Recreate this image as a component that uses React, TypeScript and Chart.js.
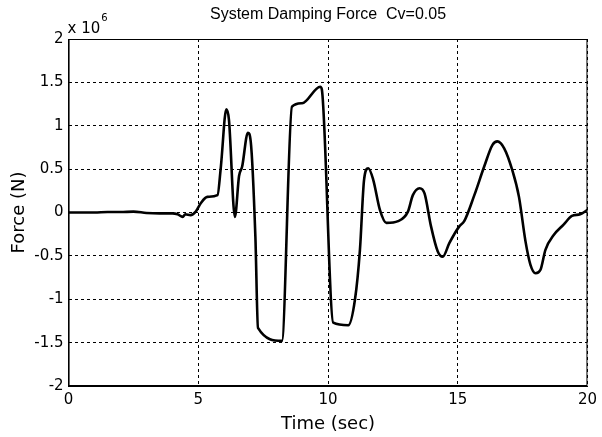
import React, { useEffect, useRef } from "react";
import { Chart, registerables } from "chart.js";

Chart.register(...registerables);

const timeSec = [
  0, 0.5, 1, 1.5, 2, 2.5, 3, 3.5, 4, 4.2, 4.4, 4.5, 4.7, 4.9, 5.1, 5.35, 5.74, 5.87, 6.08, 6.18,
  6.41, 6.57, 6.69, 6.91, 7.02, 7.2, 7.3, 8.22, 8.61, 9.0, 9.7, 9.76, 10.2, 10.78, 11.04, 11.23,
  11.39, 11.55, 11.74, 12.0, 12.25, 12.7, 13.08, 13.27, 13.53, 13.72, 13.97, 14.23, 14.42, 14.68,
  15.06, 15.25, 15.64, 16.02, 16.34, 16.53, 16.79, 17.1, 17.36, 17.61, 17.8, 18.0, 18.19, 18.38,
  18.7, 19.08, 19.4, 19.72, 20.0,
];

// Force in units of 10^6 N
const forceE6 = [
  0, 0, 0, 0.005, 0.005, 0.01, -0.005, -0.01, -0.01, -0.02, -0.05, -0.02, -0.03, 0.01, 0.11, 0.18,
  0.2, 0.53, 1.19, 1.07, -0.05, 0.42, 0.53, 0.92, 0.82, -0.28, -1.33, -1.48, 1.22, 1.26, 1.45, 1.42,
  -1.27, -1.3, -1.0, -0.43, 0.38, 0.51, 0.38, 0.03, -0.12, -0.1, 0.01, 0.2, 0.28, 0.22, -0.16, -0.45,
  -0.51, -0.35, -0.16, -0.1, 0.2, 0.53, 0.78, 0.82, 0.74, 0.49, 0.18, -0.33, -0.6, -0.7, -0.66, -0.43,
  -0.26, -0.14, -0.04, -0.02, 0.03,
];

const xTicks = [0, 5, 10, 15, 20];
const yTicks = [-2, -1.5, -1, -0.5, 0, 0.5, 1, 1.5, 2];

const titleText = "System Damping Force  Cv=0.05";
const xLabel = "Time (sec)";
const yLabel = "Force (N)";
const scaleBase = "x 10";
const scaleExp = "6";

const SANS = "'Liberation Sans', Arial, Helvetica, sans-serif";
const WIDE = "'DejaVu Sans', sans-serif";

export default function App() {
  const ref = useRef<HTMLCanvasElement | null>(null);

  useEffect(() => {
    document.body.style.margin = "0";
    const canvas = ref.current!;
    const overlay = {
      id: "overlay",
      afterDraw(chart: any) {
        const { ctx, chartArea } = chart;
        const { left, right, top, bottom } = chartArea;
        ctx.save();
        ctx.strokeStyle = "#000";
        ctx.lineWidth = 1;
        ctx.setLineDash([]);
        ctx.strokeRect(left + 0.5, top + 0.5, right - left - 1, bottom - top - 1);
        ctx.fillStyle = "#000";
        ctx.font = `16px ${SANS}`;
        ctx.textAlign = "center";
        ctx.textBaseline = "middle";
        ctx.fillText(titleText, (left + right) / 2, 15);
        ctx.textAlign = "left";
        ctx.textBaseline = "alphabetic";
        ctx.font = `15px ${WIDE}`;
        ctx.fillText(scaleBase, left - 1, 33);
        const w = ctx.measureText(scaleBase).width;
        ctx.font = `10px ${WIDE}`;
        ctx.fillText(scaleExp, left - 1 + w + 1, 21);
        ctx.restore();
      },
    };

    const chart = new Chart(canvas, {
      type: "line",
      data: {
        datasets: [
          {
            data: timeSec.map((t, i) => ({ x: t, y: forceE6[i] })),
            borderColor: "#000",
            borderWidth: 2.6,
            pointRadius: 0,
            cubicInterpolationMode: "monotone",
            fill: false,
          },
        ],
      },
      options: {
        animation: false,
        responsive: false,
        maintainAspectRatio: false,
        layout: { padding: { top: 39, right: 11, left: 0, bottom: 0 } },
        plugins: { legend: { display: false }, tooltip: { enabled: false }, title: { display: false } },
        scales: {
          x: {
            type: "linear",
            min: 0,
            max: 20,
            afterBuildTicks: (s: any) => {
              s.ticks = xTicks.map((v) => ({ value: v }));
            },
            afterFit: (s: any) => {
              s.height = 51;
            },
            ticks: { color: "#000", font: { family: WIDE, size: 15 }, padding: 5, maxRotation: 0 },
            grid: { color: "#000", lineWidth: 1, drawTicks: false },
            border: { display: true, color: "#000", width: 1, dash: [3, 3] },
            title: {
              display: true,
              text: xLabel,
              color: "#000",
              font: { family: WIDE, size: 18 },
              padding: { top: 0, bottom: 2 },
            },
          },
          y: {
            type: "linear",
            min: -2,
            max: 2,
            afterBuildTicks: (s: any) => {
              s.ticks = yTicks.map((v) => ({ value: v }));
            },
            afterFit: (s: any) => {
              s.width = 68.6;
            },
            ticks: {
              color: "#000",
              font: { family: WIDE, size: 15 },
              padding: 5,
              callback: (v: any) => String(v),
            },
            grid: { color: "#000", lineWidth: 1, drawTicks: false },
            border: { display: true, color: "#000", width: 1, dash: [3, 3] },
            title: {
              display: true,
              text: yLabel,
              color: "#000",
              font: { family: WIDE, size: 18 },
              padding: { top: 9, bottom: 0 },
            },
          },
        },
      },
      plugins: [overlay],
    } as any);
    return () => chart.destroy();
  }, []);

  return (
    <div style={{ width: 602, height: 437, background: "#fff" }}>
      <canvas ref={ref} width={602} height={437} style={{ display: "block" }} />
    </div>
  );
}
